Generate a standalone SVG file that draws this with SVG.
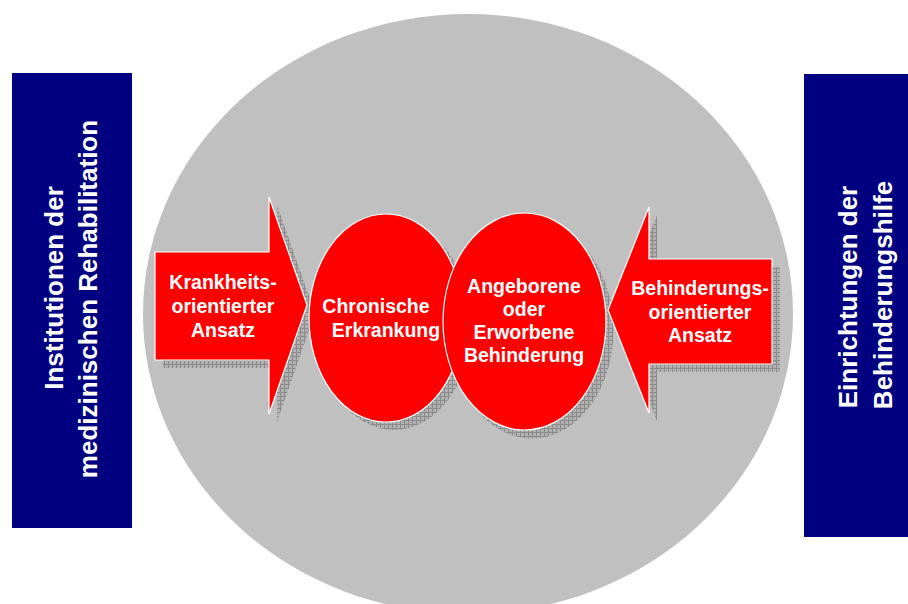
<svg xmlns="http://www.w3.org/2000/svg" width="908" height="604" viewBox="0 0 908 604">
  <defs>
    <!-- cross-hatched drop shadow fill -->
    <pattern id="hatch" width="4" height="4" patternUnits="userSpaceOnUse">
      <rect width="4" height="4" fill="#b0b0b0"/>
      <path d="M0 0.5H4M0.5 0V4" stroke="#8c8c8c" stroke-width="1"/>
    </pattern>
    <style>
      .side { fill: #000080; }
      .side-text { font-family: "Liberation Sans", Arial, sans-serif; font-weight: bold; font-size: 26px; fill: #ffffff; text-anchor: middle; }
      .red { fill: #ff0000; stroke: #ffffff; stroke-width: 1.2; }
      .shadow { fill: url(#hatch); }
      .label { font-family: "Liberation Sans", Arial, sans-serif; font-weight: bold; font-size: 19.5px; fill: #ffffff; text-anchor: middle; }
    </style>
  </defs>

  <rect width="908" height="604" fill="#ffffff"/>

  <!-- background disc -->
  <g id="background">
    <ellipse cx="468" cy="314" rx="325" ry="300" fill="#c0c0c0"/>
  </g>

  <!-- left side column -->
  <g id="institutionen">
    <rect class="side" x="12" y="73" width="120" height="455"/>
    <text class="side-text" transform="translate(63,288) rotate(-90)">Institutionen der</text>
    <text class="side-text" transform="translate(97,299) rotate(-90)">medizinischen Rehabilitation</text>
  </g>

  <!-- right side column (runs off the right edge) -->
  <g id="einrichtungen">
    <rect class="side" x="804" y="74" width="120" height="463"/>
    <text class="side-text" transform="translate(857,297) rotate(-90)">Einrichtungen der</text>
    <text class="side-text" transform="translate(892,295) rotate(-90)">Behinderungshilfe</text>
  </g>

  <!-- left block arrow -->
  <g id="krankheitsorientiert">
    <polygon class="shadow" points="163,260 277,260 277,205 315,313 277,422 277,368 163,368"/>
    <polygon class="red" points="155,252 269,252 269,197 307,305 269,414 269,360 155,360"/>
    <text class="label" x="223" y="289">Krankheits-</text>
    <text class="label" x="223" y="313">orientierter</text>
    <text class="label" x="223" y="337">Ansatz</text>
  </g>

  <!-- left circle -->
  <g id="chronische-erkrankung">
    <ellipse class="shadow" cx="394" cy="326" rx="77" ry="104"/>
    <ellipse class="red" cx="386" cy="318" rx="77" ry="104"/>
    <text class="label" x="376" y="313">Chronische</text>
    <text class="label" x="386" y="337">Erkrankung</text>
  </g>

  <!-- right circle -->
  <g id="behinderung">
    <ellipse class="shadow" cx="532" cy="330" rx="81.5" ry="108.5"/>
    <ellipse class="red" cx="524.5" cy="321.5" rx="81.5" ry="108.5"/>
    <text class="label" x="524" y="293">Angeborene</text>
    <text class="label" x="524" y="316">oder</text>
    <text class="label" x="524" y="339">Erworbene</text>
    <text class="label" x="524" y="362">Behinderung</text>
  </g>

  <!-- right block arrow -->
  <g id="behinderungsorientiert">
    <polygon class="shadow" points="780,267 657,267 657,215 616,318 657,421 657,372 780,372"/>
    <polygon class="red" points="772,259 649,259 649,207 608,310 649,413 649,364 772,364"/>
    <text class="label" x="700" y="295">Behinderungs-</text>
    <text class="label" x="700" y="319">orientierter</text>
    <text class="label" x="700" y="342">Ansatz</text>
  </g>

  <!-- no line connectors in this figure -->
  <g id="connectors"/>
</svg>
